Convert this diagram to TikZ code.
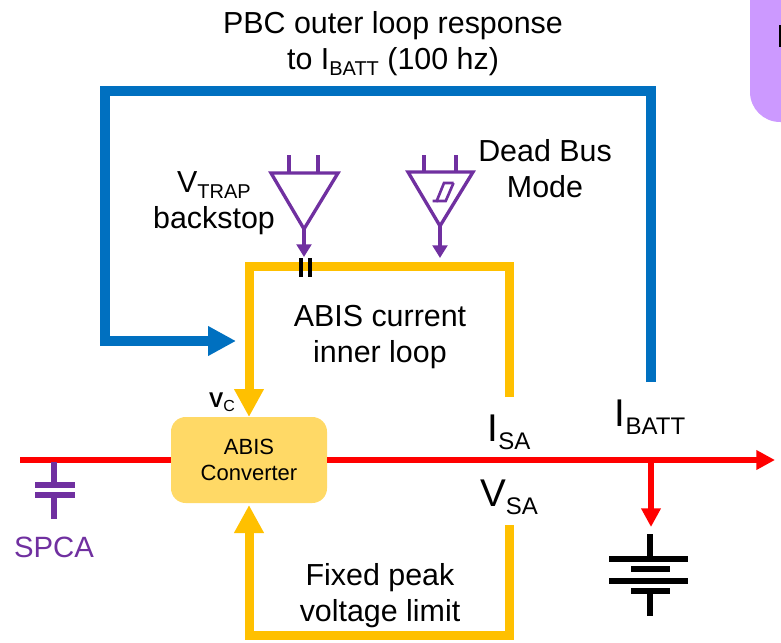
\documentclass[tikz,border=0pt]{standalone}
\usepackage{fontspec}
\setmainfont{Liberation Sans}
\usetikzlibrary{arrows.meta}
\definecolor{ablue}{HTML}{0070C0}
\definecolor{ayel}{HTML}{FFC000}
\definecolor{apur}{HTML}{7030A0}
\definecolor{abox}{HTML}{FFD966}
\definecolor{alil}{HTML}{CC99FF}
\newcommand{\subs}[2]{\raisebox{-0.2em}{\fontsize{#1}{#1}\selectfont #2}}
\tikzset{
  x=0.75pt,y=-0.75pt,
  txt/.style={inner sep=0pt,outer sep=0pt,align=center,text=black},
  lbl/.style={txt,font=\fontsize{22.8}{27}\selectfont},
  bigarrow/.style={-{Triangle[length=21pt,width=21pt]}},
  bluewire/.style={draw=ablue,line width=7.2pt,bigarrow},
  yelwire/.style={draw=ayel,line width=6.75pt},
  yelarrow/.style={yelwire,bigarrow},
  redwire/.style={draw=red,line width=4.4pt},
  redarrow/.style={redwire,-{Triangle[length=14pt,width=14pt]}},
  purline/.style={draw=apur,line width=2.5pt},
  purarrow/.style={purline,-{Triangle[length=9.5pt,width=11pt]}},
  capstyle/.style={draw=apur,line width=4.4pt},
  batstyle/.style={draw=black,line width=4.6pt},
  hyst/.style={draw=apur,line width=2pt},
}
\begin{document}
\begin{tikzpicture}
\useasboundingbox (0,0) rectangle (781,642);
% lilac box, cut by the edge of the picture
\fill[alil] (790,-10) -- (750,-10) -- (750,92) arc[start angle=180,end angle=90,radius=30] -- (790,122) -- cycle;
\fill[black] (779,25) rectangle (781,47);
% converter
\node[fill=abox,rounded corners=11pt,minimum width=117pt,minimum height=64.5pt,inner sep=0pt,outer sep=0pt,align=center,font=\fontsize{16.5}{19.5}\selectfont] (conv) at (249,460)
  {ABIS\\Converter};
% coordinates
\coordinate (blueStart) at (651,382);
\coordinate (blueTR) at (651,91);
\coordinate (blueTL) at (105,91);
\coordinate (blueBL) at (105,341);
\coordinate (blueEnd) at (236,341);
\coordinate (yelA) at (509,397);
\coordinate (yelB) at (509,266);
\coordinate (yelC) at (249,266);
\coordinate (yelD) at (509,525);
\coordinate (yelE) at (509,635);
\coordinate (yelF) at (249,635);
\coordinate (redStart) at (20,460);
\coordinate (redEnd) at (775,460);
\coordinate (redBranch) at (651,460);
\coordinate (battTip) at (651,527);
% wires
\draw[redwire] (redStart) -- (conv.west);
\draw[redarrow] (conv.east) -- (redEnd);
\draw[redarrow] (redBranch) -- (battTip);
\draw[bluewire] (blueStart) -- (blueTR) -- (blueTL) -- (blueBL) -- (blueEnd);
\draw[yelarrow] (yelA) -- (yelB) -- (yelC) -- (conv.north);
\draw[yelarrow] (yelD) -- (yelE) -- (yelF) -- ([yshift=-1.5pt]conv.south);
% left comparator
\coordinate (cmpAapex) at (304,229);
\coordinate (cmpAtip) at (304,257);
\draw[purline] (271,173) -- (338,173) -- (cmpAapex) -- cycle;
\draw[purline] (289,155) -- (289,173);
\draw[purline] (318,155) -- (318,173);
\draw[purarrow] (cmpAapex) -- (cmpAtip);
% right comparator
\coordinate (cmpBapex) at (440,226);
\coordinate (cmpBtip) at (440,258);
\draw[purline] (408,172) -- (473,172) -- (cmpBapex) -- cycle;
\draw[purline] (424,155) -- (424,172);
\draw[purline] (456,155) -- (456,172);
\draw[purarrow] (cmpBapex) -- (cmpBtip);
\draw[hyst] (453.5,183) -- (444,183) -- (436.7,201) -- (432.7,201);
\draw[hyst] (453.5,183) -- (445.7,201) -- (436.7,201);
% break ticks
\draw[draw=black,line width=2.4pt] (301,258) -- (301,277);
\draw[draw=black,line width=2.4pt] (310,258) -- (310,277);
% capacitor
\coordinate (capTop) at (54,462);
\coordinate (capBot) at (54,519);
\draw[capstyle] (capTop) -- (54,485);
\draw[capstyle] (54,495) -- (capBot);
\draw[capstyle] (35,485) -- (75,485);
\draw[capstyle] (35,495) -- (75,495);
% battery
\draw[batstyle] (650,534) -- (650,559);
\draw[batstyle] (609,559) -- (688,559);
\draw[batstyle] (631,569) -- (670,569);
\draw[batstyle] (609,581) -- (688,581);
\draw[batstyle] (631,591) -- (670,591);
\draw[batstyle] (650,591) -- (650,616);
% labels
\node[lbl] (t1) at (393,44) {PBC outer loop response\\to I\subs{15}{BATT} (100 hz)};
\node[lbl] (t2) at (214,203) {V\subs{15}{TRAP}\\backstop};
\node[lbl] (t3) at (545,169) {Dead Bus\\Mode};
\node[lbl] (t4) at (380,337) {ABIS current\\inner loop};
\node[lbl] (t5) at (380,596) {Fixed peak\\voltage limit};
\node[txt] (t6) at (222,402) {\fontsize{16}{16}\selectfont\textbf{V}\subs{12}{C}};
\node[txt] (t7) at (509,432) {\fontsize{29}{29}\selectfont I\subs{18}{SA}};
\node[txt] (t8) at (509,497) {\fontsize{29}{29}\selectfont V\subs{18}{SA}};
\node[txt] (t9) at (650,417) {\fontsize{29}{29}\selectfont I\subs{18}{BATT}};
\node[txt,text=apur] (t10) at (54,547) {\fontsize{22}{22}\selectfont SPCA};
\end{tikzpicture}
\end{document}
